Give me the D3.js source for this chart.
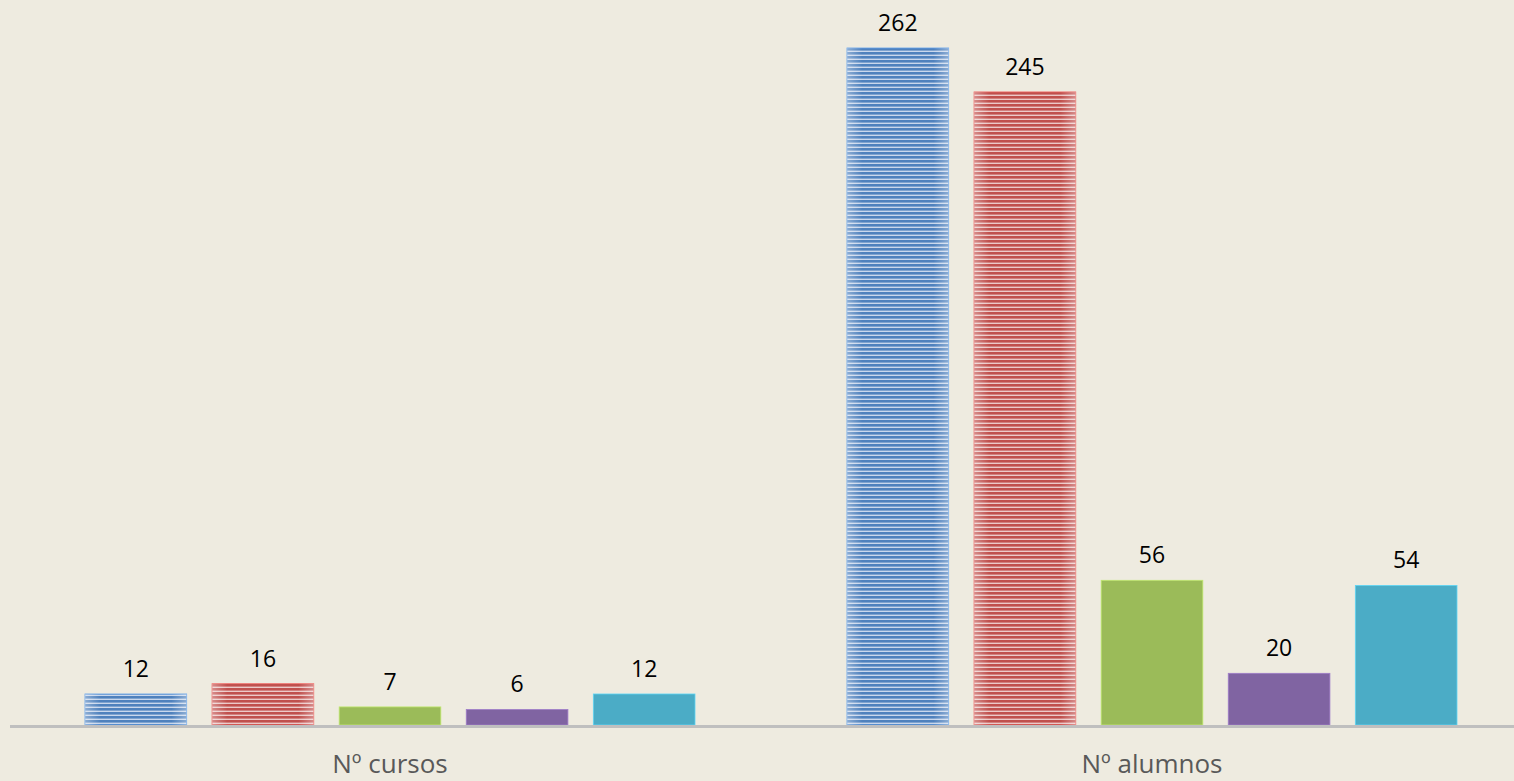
<!DOCTYPE html>
<html>
<head>
<meta charset="utf-8">
<script src="https://cdn.jsdelivr.net/npm/d3@7"></script>
<style>
  html, body { margin: 0; padding: 0; background: #eeebe0; }
  svg { display: block; }
  .val { font-family: "Open Sans", sans-serif; font-size: 23px; fill: #000; }
  .cat { font-family: "Open Sans", sans-serif; font-size: 26px; fill: #595959; }
</style>
</head>
<body>
<script>
var categories = ["Nº cursos", "Nº alumnos"];
var series = ["s1", "s2", "s3", "s4", "s5"];
var cursos = [12, 16, 7, 6, 12];
var alumnos = [262, 245, 56, 20, 54];
var values = [cursos, alumnos];

var colors = ["#4f81bd", "#c0504d", "#9bbb59", "#8064a2", "#4bacc6"];
var stripeLight = ["#c9d7ec", "#ecc9c8", null, null, null];

var width = 1514, height = 781;
var baseline = 725;

var svg = d3.select("body").append("svg")
  .attr("width", width)
  .attr("height", height);

var defs = svg.append("defs");

// horizontal stripe fills for the first two series
series.forEach(function(s, i) {
  if (!stripeLight[i]) return;
  var p = defs.append("pattern")
    .attr("id", "stripe" + i)
    .attr("patternUnits", "userSpaceOnUse")
    .attr("width", 8)
    .attr("height", 4);
  p.append("rect").attr("width", 8).attr("height", 4).attr("fill", stripeLight[i]);
  p.append("rect").attr("width", 8).attr("height", 2.6).attr("fill", colors[i]);
});

// soft shading at the bar edges
var g = defs.append("linearGradient").attr("id", "edge").attr("x1", 0).attr("x2", 1);
g.append("stop").attr("offset", "0").attr("stop-color", "#fff").attr("stop-opacity", 0.35);
g.append("stop").attr("offset", "0.15").attr("stop-color", "#fff").attr("stop-opacity", 0);
g.append("stop").attr("offset", "0.85").attr("stop-color", "#fff").attr("stop-opacity", 0);
g.append("stop").attr("offset", "1").attr("stop-color", "#fff").attr("stop-opacity", 0.35);

var x0 = d3.scaleBand().domain(categories).range([9, 1533]);
var x1 = d3.scaleBand().domain(series).range([76, 686]).paddingInner(0.2);
var y = d3.scaleLinear().domain([0, 262]).range([baseline, 48]);

var groups = svg.selectAll("g.grp")
  .data(categories)
  .enter().append("g")
  .attr("class", "grp")
  .attr("transform", function(d) { return "translate(" + x0(d) + ",0)"; });

groups.each(function(cat, ci) {
  var grp = d3.select(this);
  var rows = values[ci].map(function(v, i) { return { s: series[i], v: v, i: i }; });

  grp.selectAll("rect.bar")
    .data(rows)
    .enter().append("rect")
    .attr("class", "bar")
    .attr("x", function(d) { return x1(d.s); })
    .attr("y", function(d) { return y(d.v); })
    .attr("width", x1.bandwidth())
    .attr("height", function(d) { return baseline - y(d.v); })
    .attr("fill", function(d) { return stripeLight[d.i] ? "url(#stripe" + d.i + ")" : colors[d.i]; })
    .attr("stroke", function(d) { return d3.color(colors[d.i]).brighter(0.6); })
    .attr("stroke-width", 0.8);

  grp.selectAll("rect.shade")
    .data(rows.filter(function(d) { return stripeLight[d.i]; }))
    .enter().append("rect")
    .attr("class", "shade")
    .attr("x", function(d) { return x1(d.s); })
    .attr("y", function(d) { return y(d.v); })
    .attr("width", x1.bandwidth())
    .attr("height", function(d) { return baseline - y(d.v); })
    .attr("fill", "url(#edge)");

  grp.selectAll("text.val")
    .data(rows)
    .enter().append("text")
    .attr("class", "val")
    .attr("x", function(d) { return x1(d.s) + x1.bandwidth() / 2; })
    .attr("y", function(d) { return y(d.v) - 17; })
    .attr("text-anchor", "middle")
    .text(function(d) { return d.v; });
});

// category axis
svg.append("line")
  .attr("x1", 10).attr("x2", width)
  .attr("y1", baseline + 1.5).attr("y2", baseline + 1.5)
  .attr("stroke", "#bfbfbf")
  .attr("stroke-width", 3);

svg.selectAll("text.cat")
  .data(categories)
  .enter().append("text")
  .attr("class", "cat")
  .attr("x", function(d) { return x0(d) + x0.bandwidth() / 2; })
  .attr("y", 773)
  .attr("text-anchor", "middle")
  .text(function(d) { return d; });
</script>
</body>
</html>
